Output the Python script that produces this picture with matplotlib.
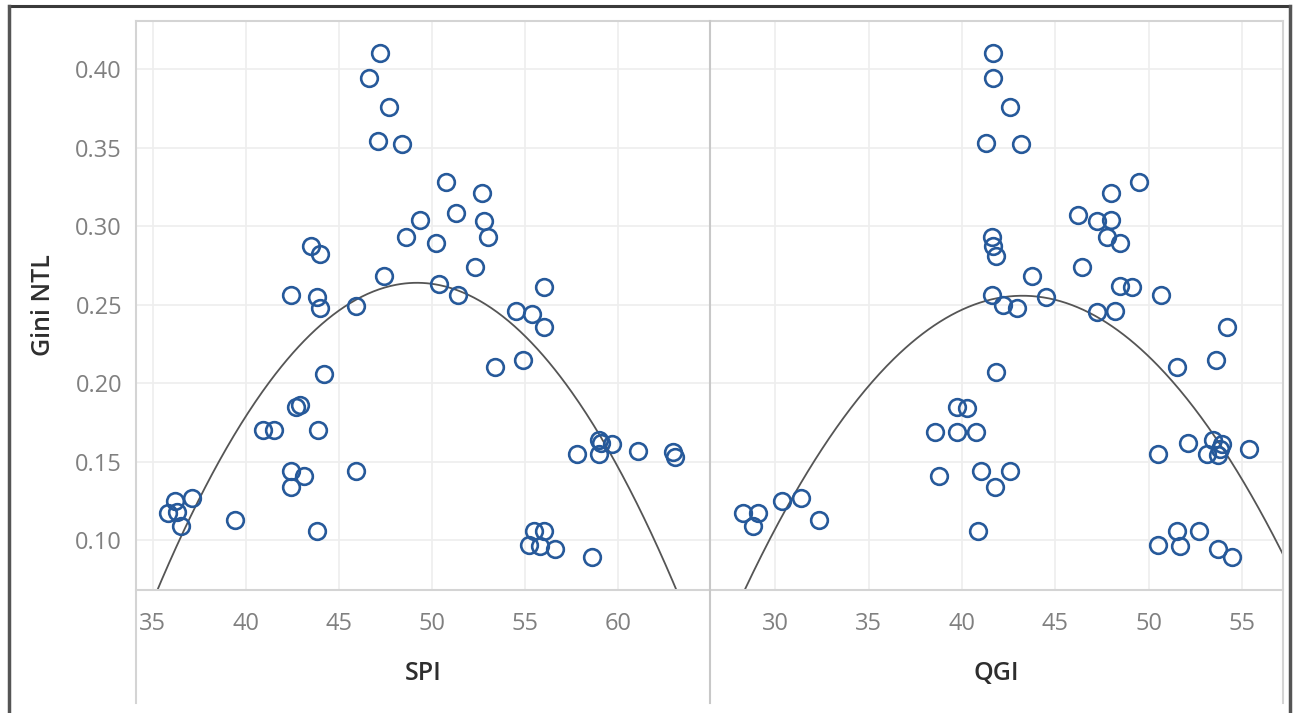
import numpy as np
import matplotlib.pyplot as plt
from matplotlib.lines import Line2D

########
# Data #
########

# left panel : SPI vs Gini NTL
spi = [47.2, 46.6, 47.7, 47.1, 48.4, 50.75, 52.7, 51.3, 49.35, 52.8,
       48.6, 50.2, 53.0, 52.3, 50.4, 51.4, 47.4, 43.5, 44.0, 42.4,
       43.8, 44.0, 45.9, 54.5, 55.4, 56.0, 56.0, 53.4, 54.9, 44.2,
       40.9, 41.5, 42.7, 42.9, 43.9, 42.4, 43.1, 42.4, 45.9, 43.8,
       39.4, 35.8, 36.2, 36.3, 36.5, 37.1, 59.0, 59.1, 59.7, 57.8,
       59.0, 61.1, 62.96, 63.06, 55.5, 56.0, 55.2, 55.8, 56.6, 58.6]
gini_spi = [0.410, 0.394, 0.376, 0.354, 0.352, 0.328, 0.321, 0.308, 0.304, 0.303,
            0.293, 0.289, 0.293, 0.274, 0.263, 0.256, 0.268, 0.287, 0.282, 0.256,
            0.255, 0.248, 0.249, 0.246, 0.244, 0.236, 0.261, 0.210, 0.215, 0.206,
            0.170, 0.170, 0.185, 0.186, 0.170, 0.144, 0.141, 0.134, 0.144, 0.106,
            0.113, 0.117, 0.125, 0.118, 0.109, 0.127, 0.164, 0.162, 0.161, 0.155,
            0.155, 0.157, 0.156, 0.153, 0.106, 0.106, 0.097, 0.096, 0.094, 0.089]

# right panel : QGI vs Gini NTL
qgi = [41.66, 41.66, 41.3, 41.6, 41.66, 41.8, 41.6, 42.57, 43.15, 49.47,
       47.97, 46.2, 47.2, 47.97, 47.75, 48.45, 46.4, 43.74, 48.45, 49.1,
       50.64, 44.5, 42.2, 42.94, 47.2, 48.2, 54.17, 51.5, 53.6, 41.8,
       52.1, 53.4, 53.9, 53.1, 53.7, 53.8, 50.5, 55.35, 42.57, 41.76,
       51.5, 52.7, 50.5, 51.66, 53.7, 54.44, 39.73, 40.27, 38.56, 39.73,
       40.75, 38.77, 41.0, 40.86, 28.3, 29.1, 28.8, 30.37, 31.4, 32.35]
gini_qgi = [0.410, 0.394, 0.353, 0.293, 0.287, 0.281, 0.256, 0.376, 0.352, 0.328,
            0.321, 0.307, 0.303, 0.304, 0.293, 0.289, 0.274, 0.268, 0.262, 0.261,
            0.256, 0.255, 0.250, 0.248, 0.245, 0.246, 0.236, 0.210, 0.215, 0.207,
            0.162, 0.164, 0.161, 0.155, 0.154, 0.158, 0.155, 0.158, 0.144, 0.134,
            0.106, 0.106, 0.097, 0.096, 0.094, 0.089, 0.185, 0.184, 0.169, 0.169,
            0.169, 0.141, 0.144, 0.106, 0.117, 0.117, 0.109, 0.125, 0.127, 0.113]

spi_ticks = [35, 40, 45, 50, 55, 60]
qgi_ticks = [30, 35, 40, 45, 50, 55]
gini_ticks = [0.10, 0.15, 0.20, 0.25, 0.30, 0.35, 0.40]

#########
# Style #
#########

plt.rcParams['font.family'] = ['Open Sans', 'DejaVu Sans']
blue = '#26599a'
grid_c = '#eeeeee'
line_c = '#d4d4d4'
W, H = 1293, 713

fig = plt.figure(figsize=(12.93, 7.13), dpi=100)
axL = fig.add_axes([136/W, 1-590/H, 574/W, 569/H])
axR = fig.add_axes([710/W, 1-590/H, 573/W, 569/H], sharey=axL)

def panel(ax, x, y, ticks, xlim, label):
    ax.set_xlim(*xlim)
    ax.set_ylim(0.0682, 0.4306)
    ax.set_xticks(ticks)
    ax.set_yticks(gini_ticks)
    ax.grid(color=grid_c, lw=1.2)
    ax.set_axisbelow(True)
    for s in ax.spines.values():
        s.set_visible(False)
    ax.tick_params(length=0, labelsize=17, colors='#808080', pad=16)
    ax.tick_params(axis='y', pad=10)
    # quadratic trend line
    c = np.polyfit(x, y, 2)
    xx = np.linspace(xlim[0], xlim[1], 400)
    ax.plot(xx, np.polyval(c, xx), color='#555555', lw=1.3, zorder=2)
    ax.plot(x, y, 'o', ms=12, mfc='none', mec=blue, mew=1.9, zorder=3)
    ax.set_xlabel(label, fontsize=18, color='#2e2e2e', fontweight='semibold', labelpad=18)

panel(axL, spi, gini_spi, spi_ticks, (34.09, 64.95), 'SPI')
panel(axR, qgi, gini_qgi, qgi_ticks, (26.52, 57.17), 'QGI')
axL.yaxis.set_major_formatter(plt.FormatStrFormatter('%.2f'))
axL.set_ylabel('Gini NTL', fontsize=18, color='#2e2e2e', fontweight='semibold', labelpad=14)
axR.tick_params(axis='y', labelleft=False)

# frame and separator lines
def fline(x0, y0, x1, y1, c, lw):
    fig.add_artist(Line2D([x0/W, x1/W], [1-y0/H, 1-y1/H], color=c, lw=lw))

fline(136, 21, 1283, 21, line_c, 1.5)
fline(136, 590, 1283, 590, line_c, 1.5)
fline(136, 21, 136, 703, line_c, 1.5)
fline(710, 21, 710, 703, '#c8c8c8', 1.5)
fline(1283, 21, 1283, 703, line_c, 1.5)
fline(9, 6, 1290, 6, '#3a3a3a', 2.2)
fline(9, 6, 9, 713, '#555555', 2.5)
fline(1290, 6, 1290, 713, '#555555', 2.5)

plt.savefig('out.png', dpi=100)
